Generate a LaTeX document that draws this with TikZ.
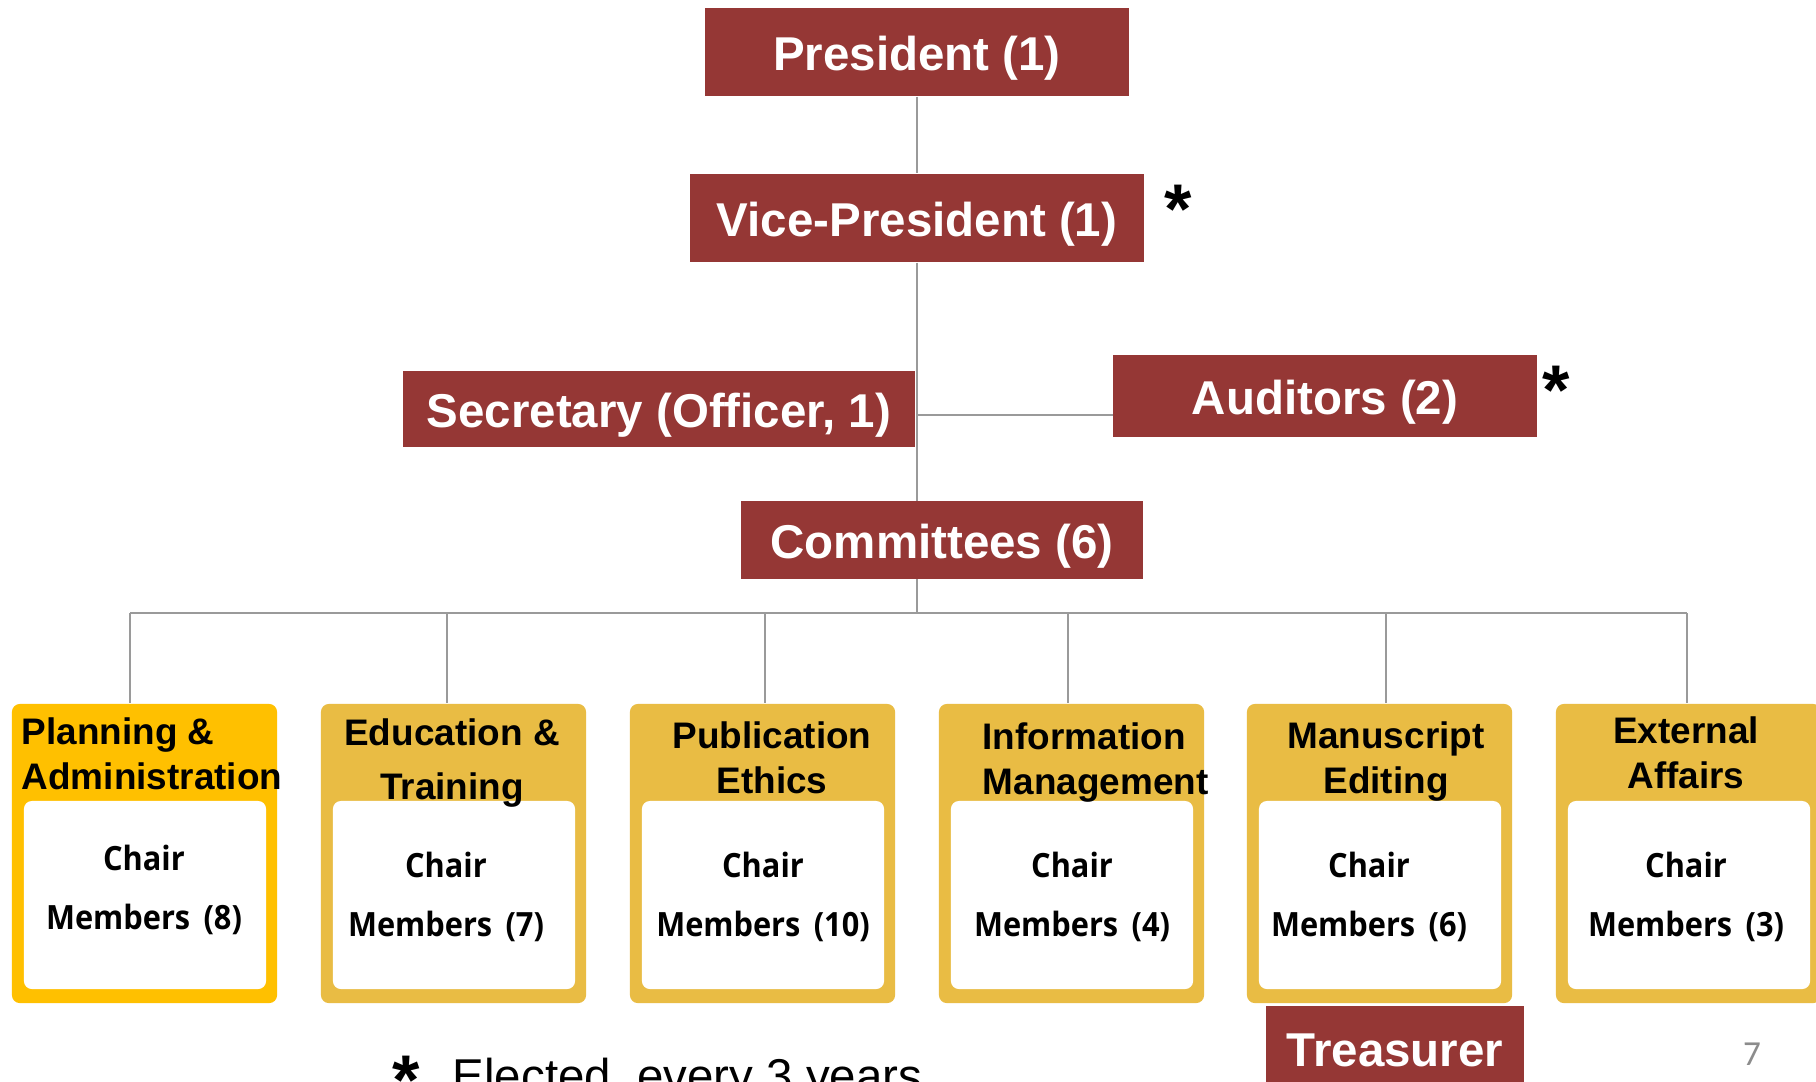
\documentclass[tikz,border=0pt]{standalone}
\usepackage{fontspec}
\setmainfont{Liberation Sans}
\newfontfamily\chairfont[FakeStretch=0.92]{Open Sans}
\newfontfamily\pagefont{Carlito}
\definecolor{offred}{HTML}{953735}
\definecolor{cmgold}{HTML}{E9BC44}
\definecolor{cmamber}{HTML}{FFC000}
\definecolor{lngray}{HTML}{9A9A9A}
\definecolor{pggray}{HTML}{8C8C8C}
\begin{document}
\begin{tikzpicture}
[x=0.01cm,y=-0.01cm,
ob/.style={fill=offred,text=white,inner sep=0pt,text height=13.2pt,text depth=2.8pt,font=\bfseries\fontsize{13.5}{16}\selectfont},
cb/.style={fill=cmgold,rounded corners=0.08cm,minimum width=2.65cm,minimum height=2.99cm,inner sep=0pt},
wb/.style={fill=white,rounded corners=0.08cm,minimum width=2.42cm,minimum height=1.88cm,inner sep=0pt},
mt/.style={inner sep=0pt,align=center,font=\chairfont\bfseries\fontsize{9.5}{16.8}\selectfont},
tt/.style={inner sep=0pt,font=\bfseries\fontsize{10.5}{12.8}\selectfont},
st/.style={inner sep=0pt,anchor=base,font=\bfseries\fontsize{20}{22}\selectfont},
ln/.style={draw=lngray,line width=0.6pt}]
\clip (0,0) rectangle (1816,1081);
\fill [white] (0,0) rectangle (1816,1081);

% officers
\node [ob,minimum width=4.23cm,minimum height=0.88cm] at (917,52) (pres) {President (1)};
\node [ob,minimum width=4.53cm,minimum height=0.88cm] at (917,218) (vp) {Vice-President (1)};
\node [ob,minimum width=5.12cm,minimum height=0.76cm] at (659,409) (sec) {Secretary (Officer, 1)};
\node [ob,minimum width=4.23cm,minimum height=0.81cm] at (1325,396) (aud) {Auditors (2)};
\node [ob,minimum width=4.02cm,minimum height=0.77cm] at (942,540) (cmt) {Committees (6)};
\node [ob,minimum width=2.58cm,minimum height=0.84cm] at (1395,1048) (tre) {Treasurer};
\node [st] at (1178,233) (vpst) {*};
\node [st] at (1556,414) (audst) {*};

% committees
\node [cb,fill=cmamber] at (144.5,853.5) (c1) {};
\node [cb] at (453.5,853.5) (c2) {};
\node [cb] at (762.5,853.5) (c3) {};
\node [cb] at (1071.5,853.5) (c4) {};
\node [cb] at (1379.5,853.5) (c5) {};
\node [cb] at (1688.5,853.5) (c6) {};

\node [wb] at (145,895) (w1) {};
\node [wb] at (454,895) (w2) {};
\node [wb] at (763,895) (w3) {};
\node [wb] at (1072,895) (w4) {};
\node [wb] at (1380,895) (w5) {};
\node [wb] at (1689,895) (w6) {};

\node [mt] at (144,890) (m1) {Chair\\Members\hspace{0.4em}(8)};
\node [mt] at (446,897) (m2) {Chair\\Members\hspace{0.4em}(7)};
\node [mt] at (763,897) (m3) {Chair\\Members\hspace{0.4em}(10)};
\node [mt] at (1072,897) (m4) {Chair\\Members\hspace{0.4em}(4)};
\node [mt] at (1369,897) (m5) {Chair\\Members\hspace{0.4em}(6)};
\node [mt] at (1686,897) (m6) {Chair\\Members\hspace{0.4em}(3)};

\node [tt,anchor=west,align=left] at (21,754) (t1) {Planning \&\\Administration};
\node [tt,align=center] at (452,763) (t2) {Education \&\\[2.3pt]Training};
\node [tt,align=center] at (772,758) (t3) {Publication\\Ethics};
\node [tt,anchor=west,align=left] at (982,763) (t4) {Information\\Management};
\node [tt,align=center] at (1386,762) (t5) {Manuscript\\Editing};
\node [tt,align=center] at (1686,753) (t6) {External\\Affairs};

% lines
\coordinate (jn) at (917,415);
\coordinate (bs) at (917,613);
\coordinate (b1) at (130,613);
\coordinate (b2) at (447,613);
\coordinate (b3) at (765,613);
\coordinate (b4) at (1068,613);
\coordinate (b5) at (1386,613);
\coordinate (b6) at (1687,613);
\draw [ln] (pres) -- (vp);
\draw [ln] (vp.south) -- (vp.south |- cmt.north);
\draw [ln] (vp.south |- cmt.south) -- (bs);
\draw [ln] (jn) -- (jn -| aud.west);
\draw [ln] (b1) -- (b6);
\draw [ln] (b1) -- (b1 |- c1.north);
\draw [ln] (b2) -- (b2 |- c2.north);
\draw [ln] (b3) -- (b3 |- c3.north);
\draw [ln] (b4) -- (b4 |- c4.north);
\draw [ln] (b5) -- (b5 |- c5.north);
\draw [ln] (b6) -- (b6 |- c6.north);

% note
\node [st] at (406,1104) (notest) {*};
\node [inner sep=0pt,anchor=base west,font=\fontsize{13.5}{16}\selectfont] at (452,1092) (note) {Elected\ \ every 3 years};
\node [inner sep=0pt,anchor=base,text=pggray,font=\pagefont\fontsize{10}{12}\selectfont] at (1752,1065) (pg) {7};
\end{tikzpicture}
\end{document}
